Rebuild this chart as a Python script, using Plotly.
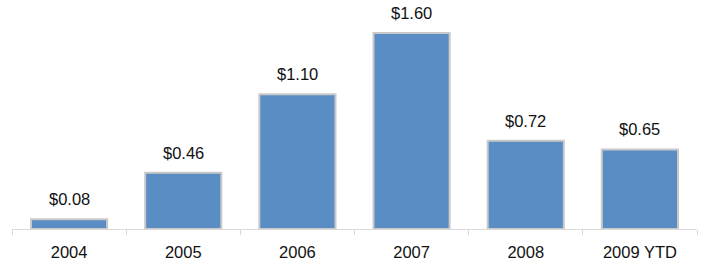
import plotly.graph_objects as go

categories = ["2004", "2005", "2006", "2007", "2008", "2009 YTD"]
values = [0.08, 0.46, 1.10, 1.60, 0.72, 0.65]
labels = ["$0.08", "$0.46", "$1.10", "$1.60", "$0.72", "$0.65"]

FONT = "Liberation Sans, Arial, sans-serif"

fig = go.Figure()
fig.add_trace(go.Bar(
    x=categories, y=values,
    marker=dict(color="#5A8DC3", line=dict(color="#C9C9C9", width=2)),
    hoverinfo="skip",
))
for i, (v, t) in enumerate(zip(values, labels)):
    fig.add_annotation(x=i, y=v, text=t, showarrow=False, yanchor="bottom",
                       yshift=9, font=dict(size=16.5, color="#111111", family=FONT))

fig.update_layout(
    width=720, height=270,
    margin=dict(l=12, r=23, t=0, b=41),
    paper_bgcolor="white", plot_bgcolor="white",
    bargap=0.333,
    showlegend=False,
    font=dict(family=FONT, size=16.5, color="#111111"),
)
fig.update_xaxes(
    type="category", categoryorder="array", categoryarray=categories,
    range=[-0.5, len(categories) - 0.5],
    showline=True, linecolor="#D9D9D9", linewidth=1,
    ticks="outside", tickson="boundaries", ticklen=5, tickcolor="#D9D9D9",
    ticklabelstandoff=8,
    showgrid=False, tickfont=dict(size=16.5, color="#111111", family=FONT),
)
fig.update_yaxes(visible=False, range=[0, 1.87], showgrid=False, zeroline=False)

fig.write_html("out.html")
